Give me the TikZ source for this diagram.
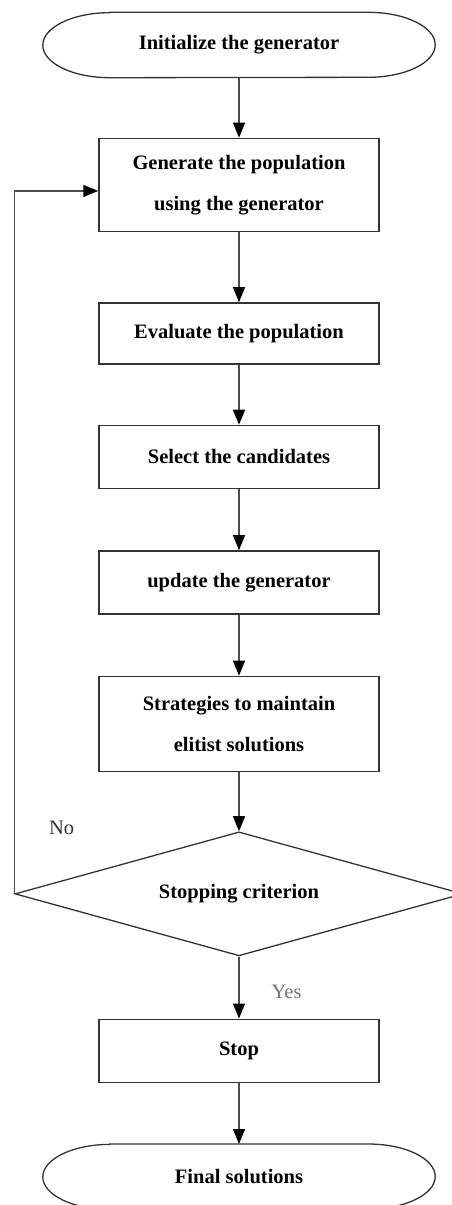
\documentclass[tikz,border=0pt]{standalone}
\usepackage{fontspec}
\setmainfont{Liberation Serif}
\usepackage{tikz}
\usetikzlibrary{arrows.meta,positioning,shapes.geometric}
\newcommand{\chartfont}{\fontsize{20.5}{41}\selectfont}

\begin{document}
\begin{tikzpicture}[x=1pt, y=1pt,
  pbox/.style={draw=black!80, line width=1.5pt, minimum width=280pt, minimum height=63pt,
               align=center, font=\chartfont\bfseries, inner sep=2pt},
  pterm/.style={minimum width=392pt, minimum height=65pt, align=center, font=\chartfont\bfseries},
  pdec/.style={draw=black!80, line width=1.3pt, diamond, aspect=3.6, minimum width=448pt, minimum height=124pt,
               inner sep=0pt, align=center, font=\chartfont\bfseries},
  arrow/.style={-{Triangle[length=15pt, width=12pt, color=black]}, draw=black!70, line width=1.3pt},
  tag/.style={font=\chartfont, inner sep=0pt, anchor=west}
]
\useasboundingbox (0,0) rectangle (452,-1205);
\node[pterm] (init) at (239,-45) {Initialize the generator};
\node[pbox, minimum height=93pt, below=60pt of init] (gen) {Generate the population\\ using the generator};
\node[pbox, minimum height=61pt, below=70pt of gen] (eval) {Evaluate the population};
\node[pbox, below=60pt of eval] (select) {Select the candidates};
\node[pbox, below=61pt of select] (update) {update the generator};
\node[pbox, minimum height=95pt, below=61pt of update] (elite) {Strategies to maintain\\ elitist solutions};
\node[pdec, below=59pt of elite] (crit) {Stopping criterion};
\node[pbox, below=62pt of crit] (stop) {Stop};
\node[pterm, below=61pt of stop] (final) {Final solutions};

% terminal outlines with elliptic ends
\foreach \term in {init, final}
  \draw[black!80, line width=1.3pt] ([xshift=67pt]\term.north west) -- ([xshift=-67pt]\term.north east)
    arc[start angle=90, end angle=-90, x radius=67pt, y radius=32.5pt]
    -- ([xshift=67pt]\term.south west)
    arc[start angle=270, end angle=90, x radius=67pt, y radius=32.5pt] -- cycle;

\draw[arrow] (init) -- (gen);
\draw[arrow] (gen) -- (eval);
\draw[arrow] (eval) -- (select);
\draw[arrow] (select) -- (update);
\draw[arrow] (update) -- (elite);
\draw[arrow] (elite) -- (crit);
\draw[arrow] (crit) -- node[tag, pos=0.57, xshift=32pt, text=black!55]{Yes} (stop);
\draw[arrow] (stop) -- (final);
\draw[arrow] (crit.west) |- node[tag, pos=0.047, xshift=34pt, text=black!80]{No} ([yshift=-6pt]gen.west);
\end{tikzpicture}
\end{document}
